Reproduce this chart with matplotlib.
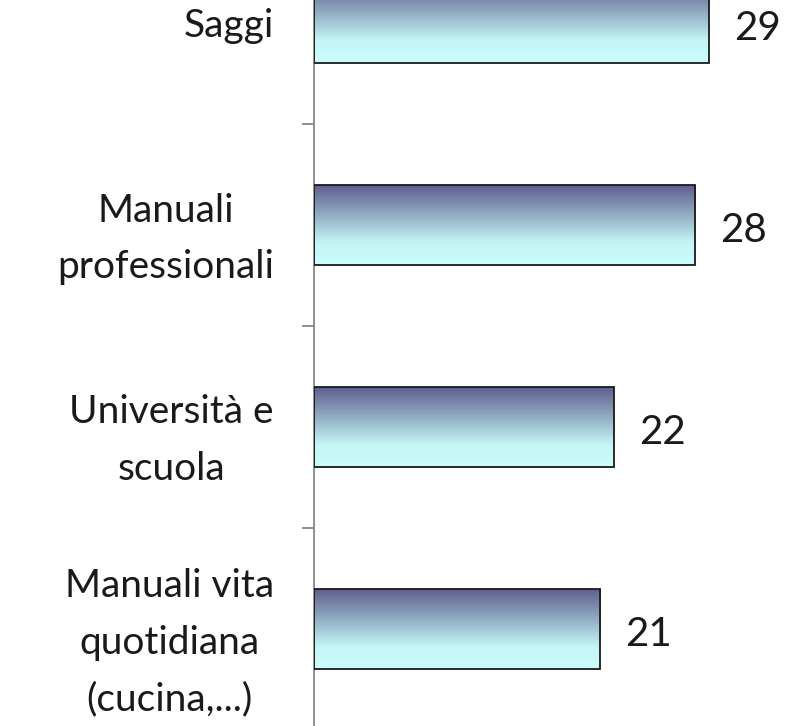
import matplotlib.pyplot as plt
import numpy as np
from matplotlib.colors import LinearSegmentedColormap
from matplotlib.transforms import ScaledTranslation

categories = ["Saggi", "Manuali\nprofessionali", "Università e\nscuola",
              "Manuali vita\nquotidiana\n(cucina,...)"]
values = [29, 28, 22, 21]

plt.rcParams['font.family'] = ['Lato', 'DejaVu Sans']

fig = plt.figure(figsize=(7.98, 7.26), dpi=100)
ax = fig.add_axes([314 / 798, 0, 1 - 314 / 798, 1])

pos = np.arange(len(categories))
bars = ax.barh(pos, values, height=0.396, color='none', edgecolor='#1a1a1a',
               linewidth=1.3, zorder=3)

cmap = LinearSegmentedColormap.from_list(
    "grad", [(0, '#5f5f8e'), (0.35, '#8ea8c0'), (0.72, '#c4f6f6'), (1, '#ccfcfc')])
grad = np.linspace(0, 1, 256).reshape(-1, 1)
for b in bars:
    x0, y0 = b.get_x(), b.get_y()
    w, h = b.get_width(), b.get_height()
    ax.imshow(grad, cmap=cmap, aspect='auto', extent=(x0, x0 + w, y0 + h, y0),
              zorder=2, interpolation='bilinear')

for p, v in zip(pos, values):
    ax.annotate(str(v), (v, p), xytext=(18, -4), textcoords='offset points',
                ha='left', va='center', fontsize=29, color='#1a1a1a')

ax.set_xlim(0, 798 / 13.62 - 314 / 13.62)
ax.set_ylim(3 + 97 / 202, -23 / 202)

ax.set_yticks(pos)
ax.set_yticklabels(categories, fontsize=28, color='#1a1a1a', linespacing=1.7,
                   multialignment='center')
shift = ScaledTranslation(0, -4 / 100, fig.dpi_scale_trans)
for lbl in ax.get_yticklabels():
    lbl.set_transform(lbl.get_transform() + shift)
ax.set_yticks([0.5, 1.5, 2.5], minor=True)
ax.tick_params(axis='y', which='major', length=0, pad=29)
ax.tick_params(axis='y', which='minor', length=9, color='#888888', width=1.3)
ax.set_xticks([])

for s in ['top', 'right', 'bottom']:
    ax.spines[s].set_visible(False)
ax.spines['left'].set_color('#888888')
ax.spines['left'].set_linewidth(1.3)

fig.savefig("out.png", dpi=100)
